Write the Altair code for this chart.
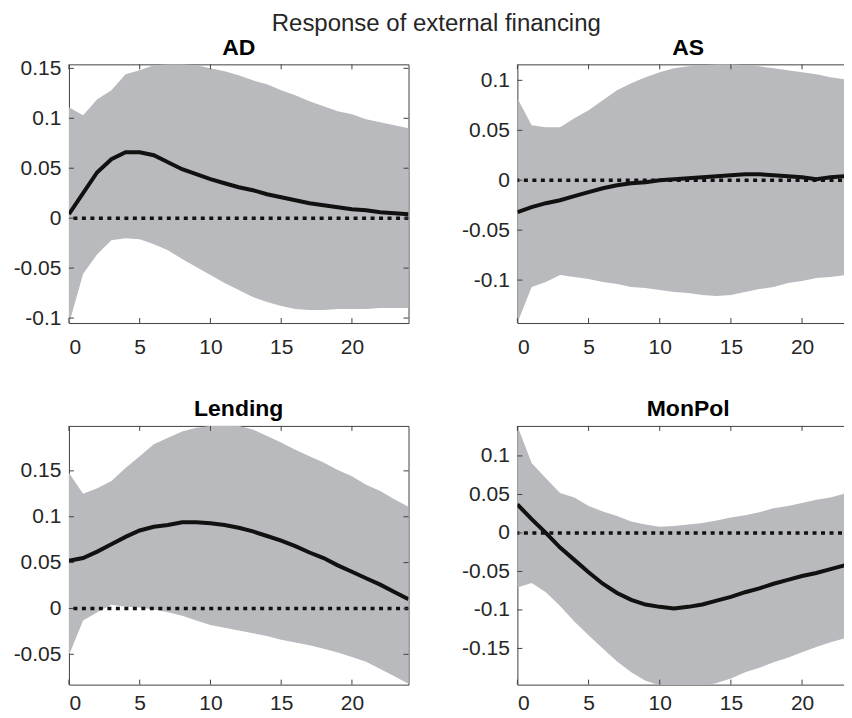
import altair as alt
import pandas as pd

T = list(range(25))
XTICKS = [0, 5, 10, 15, 20]

AD_mean = [0.004, 0.025, 0.046, 0.059, 0.066, 0.066, 0.063, 0.056, 0.049, 0.044, 0.039, 0.035, 0.031,
           0.028, 0.024, 0.021, 0.018, 0.015, 0.013, 0.011, 0.009, 0.008, 0.006, 0.005, 0.004]
AD_hi = [0.111, 0.103, 0.119, 0.128, 0.144, 0.148, 0.153, 0.154, 0.154, 0.153, 0.150, 0.147, 0.143,
         0.138, 0.134, 0.128, 0.123, 0.117, 0.112, 0.107, 0.104, 0.099, 0.096, 0.093, 0.090]
AD_lo = [-0.106, -0.056, -0.036, -0.022, -0.020, -0.021, -0.026, -0.032, -0.041, -0.049, -0.057, -0.065, -0.072,
         -0.079, -0.084, -0.088, -0.091, -0.092, -0.092, -0.091, -0.091, -0.091, -0.090, -0.090, -0.090]

AS_mean = [-0.032, -0.027, -0.023, -0.020, -0.016, -0.012, -0.008, -0.005, -0.003, -0.002, 0.000, 0.001, 0.002,
           0.003, 0.004, 0.005, 0.006, 0.006, 0.005, 0.004, 0.003, 0.001, 0.003, 0.004, 0.004]
AS_hi = [0.082, 0.055, 0.053, 0.053, 0.062, 0.070, 0.080, 0.090, 0.097, 0.103, 0.108, 0.112, 0.114,
         0.115, 0.116, 0.116, 0.115, 0.114, 0.112, 0.110, 0.108, 0.106, 0.103, 0.101, 0.099]
AS_lo = [-0.143, -0.107, -0.102, -0.095, -0.097, -0.099, -0.102, -0.104, -0.107, -0.108, -0.110, -0.112, -0.113,
         -0.115, -0.116, -0.115, -0.112, -0.109, -0.107, -0.103, -0.101, -0.098, -0.097, -0.095, -0.093]

LEND_mean = [0.052, 0.055, 0.062, 0.070, 0.078, 0.085, 0.089, 0.091, 0.094, 0.094, 0.093, 0.091, 0.088,
             0.084, 0.079, 0.074, 0.068, 0.061, 0.055, 0.047, 0.040, 0.033, 0.026, 0.018, 0.010]
LEND_hi = [0.148, 0.125, 0.131, 0.139, 0.153, 0.166, 0.179, 0.186, 0.193, 0.197, 0.199, 0.199, 0.199,
           0.195, 0.188, 0.181, 0.173, 0.166, 0.159, 0.151, 0.144, 0.135, 0.128, 0.119, 0.111]
LEND_lo = [-0.051, -0.013, -0.004, 0.004, 0.002, 0.001, -0.001, -0.004, -0.008, -0.013, -0.018, -0.021, -0.024,
           -0.027, -0.030, -0.034, -0.037, -0.040, -0.044, -0.048, -0.053, -0.058, -0.066, -0.074, -0.082]

MON_mean = [0.037, 0.018, 0.000, -0.019, -0.035, -0.051, -0.066, -0.078, -0.087, -0.093, -0.096, -0.098, -0.096,
            -0.093, -0.088, -0.083, -0.077, -0.072, -0.066, -0.061, -0.056, -0.052, -0.047, -0.042, -0.038]
MON_hi = [0.139, 0.091, 0.071, 0.052, 0.046, 0.035, 0.028, 0.022, 0.015, 0.011, 0.008, 0.009, 0.011,
          0.013, 0.016, 0.020, 0.023, 0.027, 0.032, 0.035, 0.039, 0.043, 0.046, 0.051, 0.053]
MON_lo = [-0.071, -0.065, -0.077, -0.095, -0.115, -0.133, -0.150, -0.167, -0.181, -0.192, -0.198, -0.200, -0.200,
          -0.199, -0.195, -0.189, -0.181, -0.175, -0.168, -0.162, -0.155, -0.148, -0.142, -0.137, -0.134]

FONT = "Liberation Sans"
BAND = "#b9babd"
AXC = "#404040"
TXT = "#262626"


def panel(name, mean, lo, hi, ydom, yticks, w, h, xlp, tdy=0):
    df = pd.DataFrame({"t": T, "mean": mean, "lo": lo, "hi": hi})
    xs = alt.Scale(domain=[0, 24], nice=False, zero=False)
    ys = alt.Scale(domain=ydom, nice=False, zero=False)
    common = dict(labelExpr="'' + datum.value", tickSize=0, domain=False, grid=False, title=None,
                  labelFont=FONT, labelFontSize=21, labelColor=TXT)
    xax = alt.Axis(values=XTICKS, labelPadding=xlp, **common)
    yax = alt.Axis(values=yticks, labelPadding=8, **common)
    X = lambda f: alt.X(f, scale=xs, axis=xax)
    Y = lambda f: alt.Y(f, scale=ys, axis=yax)

    band = alt.Chart(df).mark_area(color=BAND, opacity=1, clip=True).encode(
        x=X("t:Q"), y=Y("lo:Q"), y2="hi:Q")
    zero = alt.Chart(pd.DataFrame({"z": [0.0]})).mark_rule(
        color="#111111", strokeWidth=3.5, strokeDash=[4, 4.5], clip=True).encode(y=Y("z:Q"))
    line = alt.Chart(df).mark_line(color="#111111", strokeWidth=4, clip=True).encode(
        x=X("t:Q"), y=Y("mean:Q"))
    xt = pd.DataFrame({"v": XTICKS})
    yt = pd.DataFrame({"v": yticks})
    tick = dict(color=AXC, strokeWidth=1)
    xb = alt.Chart(xt).mark_rule(**tick).encode(x=X("v:Q"), y=alt.value(h), y2=alt.value(h - 5))
    xtp = alt.Chart(xt).mark_rule(**tick).encode(x=X("v:Q"), y=alt.value(0), y2=alt.value(5))
    yl = alt.Chart(yt).mark_rule(**tick).encode(y=Y("v:Q"), x=alt.value(0), x2=alt.value(5))
    yr = alt.Chart(yt).mark_rule(**tick).encode(y=Y("v:Q"), x=alt.value(w), x2=alt.value(w - 5))
    return alt.layer(band, zero, line, xb, xtp, yl, yr).properties(
        width=w, height=h,
        title=alt.TitleParams(name, fontSize=23, fontWeight="bold", font=FONT, color="#000000",
                              offset=4, dy=tdy),
    )


ad = panel("AD", AD_mean, AD_lo, AD_hi, [-0.105, 0.154], [-0.1, -0.05, 0, 0.05, 0.1, 0.15], 340, 259, 13, 7)
as_ = panel("AS", AS_mean, AS_lo, AS_hi, [-0.143, 0.116], [-0.1, -0.05, 0, 0.05, 0.1], 342, 259, 13)
lend = panel("Lending", LEND_mean, LEND_lo, LEND_hi, [-0.083, 0.199], [-0.05, 0, 0.05, 0.1, 0.15], 340, 259, 8)
mon = panel("MonPol", MON_mean, MON_lo, MON_hi, [-0.197, 0.139], [-0.15, -0.1, -0.05, 0, 0.05, 0.1], 342, 259, 8)

chart = alt.concat(
    ad, as_, lend, mon, columns=2,
    spacing=alt.RowColnumber(row=103, column=109), bounds="flush",
).properties(
    title=alt.TitleParams("Response of external financing", fontSize=24, fontWeight="normal",
                          font=FONT, color=TXT, anchor="middle", offset=0),
    padding={"left": 4, "top": 4, "right": -16, "bottom": -5},
    background="white",
).configure_view(
    stroke=AXC, strokeWidth=1
)

chart.save("out.html", embed_options={"renderer": "svg", "actions": False})
